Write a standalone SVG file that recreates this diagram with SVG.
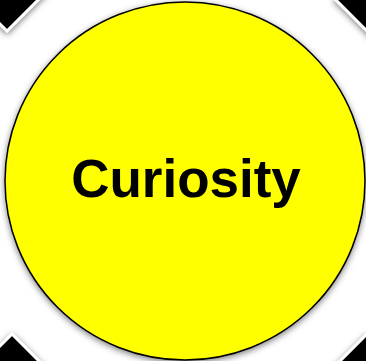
<svg xmlns="http://www.w3.org/2000/svg" width="366" height="361" viewBox="0 0 366 361">
<defs>
<filter id="sh" x="-20%" y="-20%" width="140%" height="140%">
<feDropShadow dx="0" dy="2" stdDeviation="3" flood-color="#000" flood-opacity="0.5"/>
</filter>
</defs>
<style>
.dia{fill:#000;stroke:#fff;stroke-width:3;filter:url(#sh)}
.circ{fill:#ffff00;stroke:#000;stroke-width:1.5;filter:url(#sh)}
.lbl{font-family:"Liberation Sans",Arial,sans-serif;font-weight:bold;font-size:53px;fill:#000;text-anchor:middle}
</style>
<rect width="366" height="361" fill="#fff"/>
<g id="corner-tl"><polygon class="dia" points="7,-49 47,-9 7,31 -33,-9"/></g>
<g id="corner-tr"><polygon class="dia" points="375,-41 415,-1 375,39 335,-1"/></g>
<g id="corner-bl"><polygon class="dia" points="12,334 52,374 12,414 -28,374"/></g>
<g id="corner-br"><polygon class="dia" points="367,334 407,374 367,414 327,374"/></g>
<g id="connectors"></g>
<g id="curiosity">
<ellipse class="circ" cx="185" cy="181" rx="180" ry="179"/>
<text class="lbl" x="186" y="197">Curiosity</text>
</g>
</svg>
